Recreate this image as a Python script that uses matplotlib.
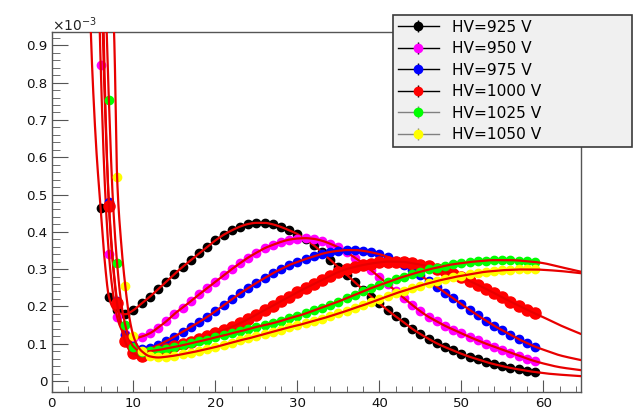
import numpy as np
import matplotlib
matplotlib.use("Agg")
import matplotlib.pyplot as plt
from matplotlib.lines import Line2D
from matplotlib.legend_handler import HandlerTuple

# ---------------------------------------------------------------------------
# Measured signal shape (values in units of 1e-3) for each high-voltage setting
# ---------------------------------------------------------------------------
labels = ["HV=925 V", "HV=950 V", "HV=975 V", "HV=1000 V", "HV=1025 V", "HV=1050 V"]
colors = ["#000000", "#ff00ff", "#0000ff", "#ff0000", "#00ff00", "#ffff00"]
legend_line_colors = ["#000000", "#000000", "#000000", "#000000", "#808080", "#808080"]

x_925 = list(range(6, 60))
y_925 = [0.463, 0.226, 0.19, 0.179, 0.19, 0.208, 0.226, 0.246, 0.266, 0.287,
         0.306, 0.324, 0.342, 0.36, 0.377, 0.392, 0.404, 0.414, 0.421, 0.424,
         0.424, 0.42, 0.413, 0.404, 0.394, 0.38, 0.364, 0.345, 0.325, 0.305,
         0.285, 0.265, 0.245, 0.226, 0.208, 0.19, 0.173, 0.157, 0.14, 0.126,
         0.113, 0.101, 0.091, 0.082, 0.073, 0.065, 0.058, 0.051, 0.045, 0.04,
         0.035, 0.031, 0.027, 0.024]

x_950 = list(range(6, 60))
y_950 = [0.847, 0.34, 0.172, 0.125, 0.114, 0.119, 0.128, 0.143, 0.16, 0.18,
         0.197, 0.214, 0.232, 0.249, 0.266, 0.283, 0.3, 0.316, 0.331, 0.344,
         0.356, 0.365, 0.373, 0.379, 0.382, 0.383, 0.381, 0.376, 0.368, 0.358,
         0.345, 0.331, 0.315, 0.297, 0.279, 0.26, 0.241, 0.222, 0.204, 0.187,
         0.172, 0.16, 0.148, 0.138, 0.128, 0.118, 0.109, 0.1, 0.092, 0.084,
         0.076, 0.068, 0.06, 0.053]

x_975 = list(range(7, 60))
y_975 = [0.48, 0.215, 0.123, 0.093, 0.085, 0.088, 0.096, 0.107, 0.119, 0.132,
         0.145, 0.158, 0.172, 0.187, 0.203, 0.219, 0.235, 0.249, 0.263, 0.276,
         0.289, 0.3, 0.311, 0.319, 0.327, 0.334, 0.341, 0.346, 0.349, 0.351,
         0.351, 0.349, 0.345, 0.34, 0.333, 0.323, 0.311, 0.298, 0.284, 0.268,
         0.253, 0.237, 0.222, 0.206, 0.191, 0.176, 0.162, 0.148, 0.136, 0.124,
         0.112, 0.102, 0.092]

x_1000 = list(range(7, 60))
y_1000 = [0.47, 0.208, 0.107, 0.074, 0.066, 0.074, 0.08, 0.087, 0.093, 0.099,
          0.105, 0.113, 0.12, 0.128, 0.136, 0.145, 0.155, 0.166, 0.178, 0.19,
          0.202, 0.214, 0.226, 0.238, 0.249, 0.26, 0.271, 0.282, 0.292, 0.3,
          0.306, 0.311, 0.315, 0.318, 0.32, 0.32, 0.319, 0.316, 0.312, 0.307,
          0.3, 0.294, 0.286, 0.278, 0.268, 0.258, 0.247, 0.236, 0.224, 0.213,
          0.202, 0.191, 0.181]

x_1025 = list(range(7, 60))
y_1025 = [0.753, 0.316, 0.15, 0.092, 0.078, 0.08, 0.083, 0.087, 0.091, 0.096,
          0.101, 0.106, 0.111, 0.117, 0.122, 0.128, 0.133, 0.139, 0.145, 0.15,
          0.155, 0.161, 0.168, 0.174, 0.181, 0.189, 0.197, 0.205, 0.213, 0.222,
          0.231, 0.24, 0.249, 0.257, 0.265, 0.273, 0.28, 0.287, 0.293, 0.299,
          0.304, 0.309, 0.313, 0.316, 0.319, 0.321, 0.323, 0.324, 0.324, 0.324,
          0.323, 0.321, 0.319]

x_1050 = list(range(8, 60))
y_1050 = [0.548, 0.255, 0.12, 0.08, 0.066, 0.063, 0.065, 0.068, 0.072, 0.076,
          0.081, 0.086, 0.091, 0.097, 0.103, 0.109, 0.114, 0.12, 0.126, 0.132,
          0.138, 0.144, 0.149, 0.155, 0.161, 0.167, 0.174, 0.181, 0.188, 0.196,
          0.203, 0.211, 0.219, 0.227, 0.235, 0.242, 0.249, 0.256, 0.262, 0.268,
          0.273, 0.278, 0.282, 0.286, 0.29, 0.293, 0.295, 0.297, 0.298, 0.299,
          0.299, 0.299]

# Fit curves: steep leading part, the measured range, and the extrapolated tail
fit_head_x = [
    [4.5, 5.0, 5.5, 6.0, 6.5, 7.0, 7.5, 8.0],
    [5.6, 6.0, 6.5, 7.0, 7.5, 8.0, 8.5],
    [6.0, 6.5, 7.0, 7.5, 8.0, 8.5],
    [6.2, 6.5, 7.0, 7.5, 8.0, 8.5, 9.0, 9.5],
    [6.5, 7.0, 7.5, 8.0, 8.5, 9.0, 9.5],
    [7.4, 7.7, 8.0, 8.5, 9.0, 9.5, 10.0, 10.5],
]
fit_head_y = [
    [1.12, 0.82, 0.61, 0.463, 0.32, 0.226, 0.196, 0.183],
    [1.2, 0.847, 0.53, 0.34, 0.235, 0.172, 0.14],
    [1.15, 0.75, 0.48, 0.32, 0.215, 0.155],
    [1.12, 0.8, 0.47, 0.31, 0.208, 0.145, 0.105, 0.083],
    [1.1, 0.753, 0.48, 0.316, 0.21, 0.15, 0.112],
    [1.1, 0.88, 0.548, 0.37, 0.255, 0.17, 0.12, 0.094],
]
fit_tail_x = [60, 62, 64.6]
fit_tail_y = [
    [0.021, 0.017, 0.013],
    [0.047, 0.037, 0.029],
    [0.084, 0.069, 0.056],
    [0.171, 0.15, 0.126],
    [0.316, 0.306, 0.293],
    [0.298, 0.295, 0.289],
]

xs = [x_925, x_950, x_975, x_1000, x_1025, x_1050]
ys = [y_925, y_950, y_975, y_1000, y_1025, y_1050]
marker_sizes = [6, 6, 6, 8, 6, 6]


def pchip(xk, yk, xq):
    """Monotone piecewise cubic Hermite curve through the knots."""
    xk = np.asarray(xk, float)
    yk = np.asarray(yk, float)
    h = np.diff(xk)
    delta = np.diff(yk) / h
    d = np.zeros_like(yk)
    for k in range(1, len(xk) - 1):
        if delta[k - 1] * delta[k] > 0:
            w1 = 2 * h[k] + h[k - 1]
            w2 = h[k] + 2 * h[k - 1]
            d[k] = (w1 + w2) / (w1 / delta[k - 1] + w2 / delta[k])
    d[0] = delta[0]
    d[-1] = delta[-1]
    idx = np.clip(np.searchsorted(xk, xq) - 1, 0, len(xk) - 2)
    t = (xq - xk[idx]) / h[idx]
    h00 = 2 * t**3 - 3 * t**2 + 1
    h10 = t**3 - 2 * t**2 + t
    h01 = -2 * t**3 + 3 * t**2
    h11 = t**3 - t**2
    return (h00 * yk[idx] + h10 * h[idx] * d[idx]
            + h01 * yk[idx + 1] + h11 * h[idx] * d[idx + 1])


plt.rcParams["font.family"] = ["DejaVu Sans"]

fig = plt.figure(figsize=(6.39, 4.11), dpi=100)
ax = fig.add_axes([0.0806, 0.047, 0.8286, 0.8744])
ax.set_xlim(0, 64.6)
ax.set_ylim(-0.0287, 0.935)

for i in range(6):
    xd = np.asarray(xs[i], float)
    yd = np.asarray(ys[i], float)
    ax.plot(xd, yd, "o", color=colors[i], mec=colors[i], ms=marker_sizes[i],
            zorder=2 + 2 * i)
    head_end = fit_head_x[i][-1]
    keep = xd > head_end
    kx = np.concatenate([fit_head_x[i], xd[keep], fit_tail_x])
    ky = np.concatenate([fit_head_y[i], yd[keep], fit_tail_y[i]])
    xq = np.linspace(kx[0], kx[-1], 1500)
    ax.plot(xq, pchip(kx, ky, xq), color="#e80000", lw=1.6,
            zorder=3 + 2 * i, solid_capstyle="round")

frame_color = "#555555"
for side in ["left", "bottom", "top", "right"]:
    ax.spines[side].set_color(frame_color)
    ax.spines[side].set_linewidth(1.0)

ax.set_xticks(np.arange(0, 61, 10))
ax.set_xticks(np.arange(0, 65, 2), minor=True)
ax.set_yticks(np.round(np.arange(0, 0.91, 0.1), 2))
ax.set_yticks(np.round(np.arange(0, 0.93, 0.02), 2), minor=True)
ax.set_yticklabels(["0", "0.1", "0.2", "0.3", "0.4", "0.5", "0.6", "0.7", "0.8", "0.9"])
ax.tick_params(axis="both", which="both", direction="in", top=False, right=False,
               color=frame_color, labelsize=9.6, labelcolor="#111111")
ax.tick_params(axis="x", which="major", length=8.5, pad=4)
ax.tick_params(axis="x", which="minor", length=4.3)
ax.tick_params(axis="y", which="major", length=11.5, pad=3)
ax.tick_params(axis="y", which="minor", length=5.8)

fig.text(52 / 639, 1 - 31 / 411, r"$\times10^{-3}$", fontsize=10,
         ha="left", va="baseline", color="#222222")

handles = []
for i in range(6):
    handles.append((
        Line2D([], [], color=legend_line_colors[i], lw=1.0),
        Line2D([], [], marker="|", ms=8, mew=1.0, color=legend_line_colors[i], ls="none"),
        Line2D([], [], marker="o", ms=6, color=colors[i], mec=colors[i], ls="none"),
    ))

leg_top = 1 - 15 / 411
leg = fig.legend(handles, labels, handler_map={tuple: HandlerTuple(ndivide=1)},
                 loc="upper left",
                 bbox_to_anchor=(393 / 639, leg_top - 0.2, (632 - 393) / 639, 0.2),
                 mode="expand", borderaxespad=0, fontsize=11.1,
                 handlelength=2.7, handletextpad=0.8, borderpad=0.3,
                 labelspacing=0.42, fancybox=False, framealpha=1)
leg.get_frame().set_facecolor("#f0f0f0")
leg.get_frame().set_edgecolor("#3a3a3a")
leg.get_frame().set_linewidth(1.2)
leg.set_zorder(30)

fig.savefig("out.png", dpi=100, facecolor="white")
